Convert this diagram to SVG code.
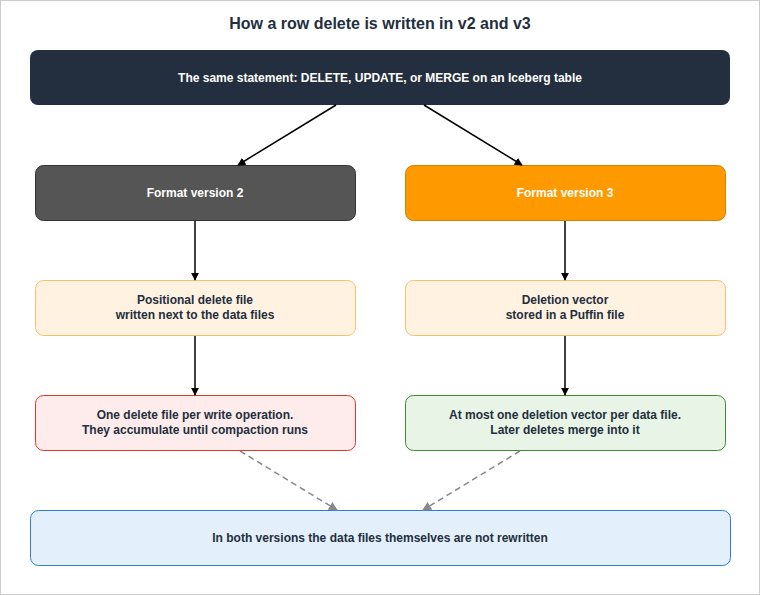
<svg xmlns="http://www.w3.org/2000/svg" width="760" height="595" viewBox="0 0 760 595">
<style>
text{font-family:"Liberation Sans",Arial,sans-serif;font-weight:bold;font-size:12px;text-anchor:middle;fill:#232f3e}
.w{fill:#fff}
.c{fill:none;stroke:#000;stroke-width:1.5}
.d{fill:none;stroke:#888;stroke-width:1.5;stroke-dasharray:6 4}
</style>
<defs>
<marker id="a" viewBox="0 0 10 10" refX="9" refY="5" markerWidth="8" markerHeight="8" markerUnits="userSpaceOnUse" orient="auto"><path d="M0,0 L10,5 L0,10 z" fill="#000"/></marker>
<marker id="g" viewBox="0 0 10 10" refX="9" refY="5" markerWidth="9" markerHeight="9" markerUnits="userSpaceOnUse" orient="auto"><path d="M0,0 L10,5 L0,10 z" fill="#888"/></marker>
</defs>
<rect x="0.5" y="0.5" width="759" height="594" fill="#fff" stroke="#ccc"/>
<text x="380" y="29" style="font-size:16px">How a row delete is written in v2 and v3</text>
<g id="top"><rect x="30" y="50" width="700" height="55" rx="8" fill="#232f3e"/><text class="w" x="380" y="82">The same statement: DELETE, UPDATE, or MERGE on an Iceberg table</text></g>
<g id="v2"><rect x="35.5" y="165.5" width="320" height="55" rx="8" fill="#555" stroke="#333"/><text class="w" x="195" y="197">Format version 2</text></g>
<g id="v3"><rect x="405.5" y="165.5" width="320" height="55" rx="8" fill="#f90" stroke="#d68000"/><text class="w" x="565" y="197">Format version 3</text></g>
<g id="pos"><rect x="35.5" y="280.5" width="320" height="55" rx="8" fill="#fff2e0" stroke="#f5c26b"/><text x="195" y="304">Positional delete file</text><text x="195" y="319">written next to the data files</text></g>
<g id="dv"><rect x="405.5" y="280.5" width="320" height="55" rx="8" fill="#fff2e0" stroke="#f5c26b"/><text x="565" y="304">Deletion vector</text><text x="565" y="319">stored in a Puffin file</text></g>
<g id="acc"><rect x="35.5" y="395.5" width="320" height="55" rx="8" fill="#fdeceb" stroke="#d93a2b"/><text x="195" y="419">One delete file per write operation.</text><text x="195" y="434">They accumulate until compaction runs</text></g>
<g id="one"><rect x="405.5" y="395.5" width="320" height="55" rx="8" fill="#e8f5e6" stroke="#3e8a2e"/><text x="565" y="419">At most one deletion vector per data file.</text><text x="565" y="434">Later deletes merge into it</text></g>
<g id="both"><rect x="30.5" y="510.5" width="700" height="55" rx="8" fill="#e3f0fc" stroke="#2b7de0"/><text x="380" y="542">In both versions the data files themselves are not rewritten</text></g>
<g id="connectors">
<path class="c" d="M336,105 L238,165" marker-end="url(#a)"/>
<path class="c" d="M424,105 L522,165" marker-end="url(#a)"/>
<path class="c" d="M195,221 V280" marker-end="url(#a)"/>
<path class="c" d="M565,221 V280" marker-end="url(#a)"/>
<path class="c" d="M195,336 V395" marker-end="url(#a)"/>
<path class="c" d="M565,336 V395" marker-end="url(#a)"/>
<path class="d" d="M240,451 L337,510" marker-end="url(#g)"/>
<path class="d" d="M520,451 L423,510" marker-end="url(#g)"/>
</g>
</svg>
